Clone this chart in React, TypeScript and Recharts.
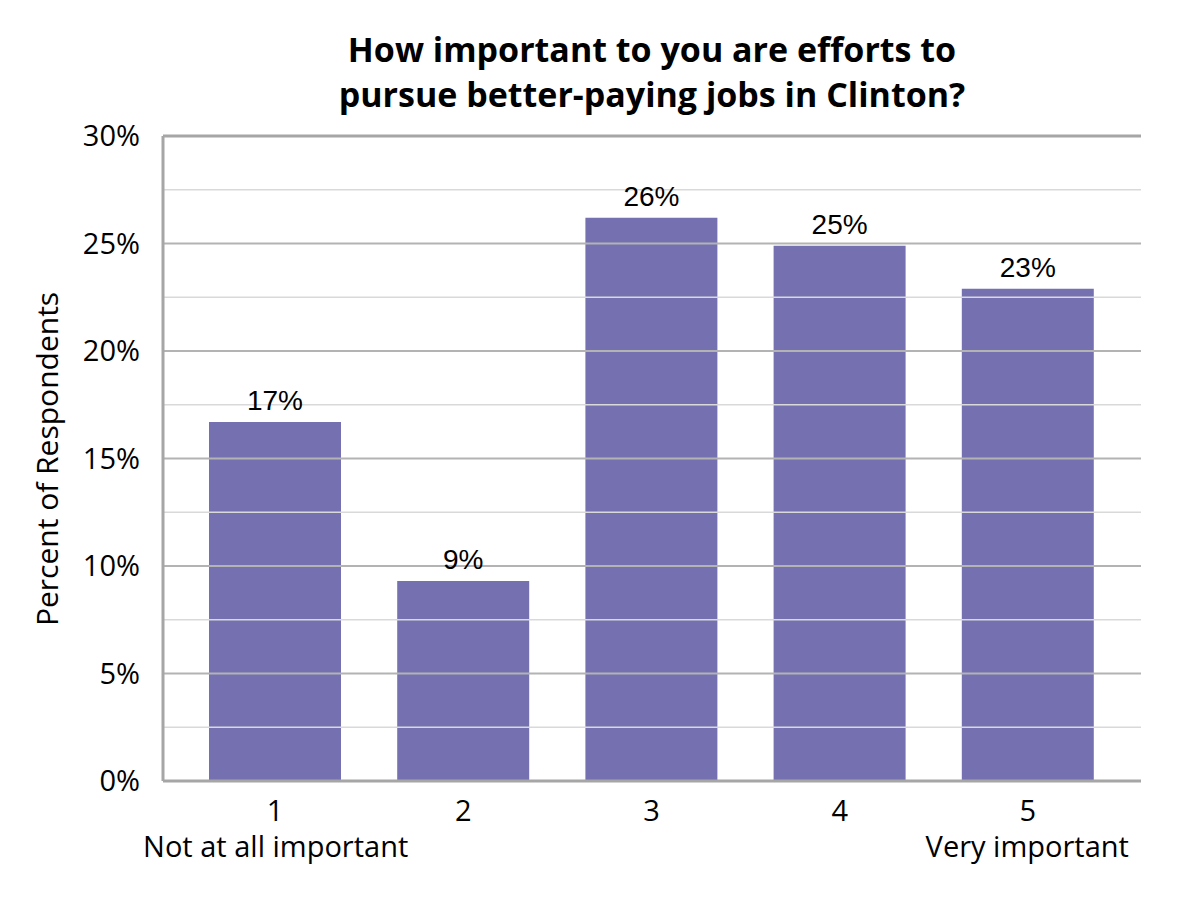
import { BarChart, Bar, XAxis, YAxis, ReferenceLine, LabelList } from "recharts";

const CATEGORIES = ["1", "2", "3", "4", "5"];
const PERCENTS = [16.7, 9.3, 26.2, 24.9, 22.9];
const Y_TICKS = [0, 5, 10, 15, 20, 25, 30];
const MINOR_LINES = [2.5, 7.5, 12.5, 17.5, 22.5, 27.5];
const END_LABELS: Record<string, string> = { "1": "Not at all important", "5": "Very important" };
const TITLE = ["How important to you are efforts to", "pursue better-paying jobs in Clinton?"];

const data = CATEGORIES.map((name, i) => ({ name, value: PERCENTS[i] }));

const FONT = "'Open Sans', Lato, sans-serif";
const BORDER = "#a6a6a6";

function CategoryTick({ x, y, payload }: any) {
  const extra = END_LABELS[payload.value];
  const first = payload.value === CATEGORIES[0];
  return (
    <g fontFamily={FONT} fontSize={29} fill="#000">
      <text x={x} y={y + 32} textAnchor="middle" fill="#000">
        {payload.value}
      </text>
      {extra && (
        <text
          x={first ? x - 132 : x + 101}
          y={y + 68}
          textAnchor={first ? "start" : "end"}
          fill="#000"
        >
          {extra}
        </text>
      )}
    </g>
  );
}

export default function App() {
  return (
    <div style={{ position: "relative", width: 1200, height: 900, background: "#fff" }}>
      <style>{`body{margin:0}`}</style>
      <div
        style={{
          position: "absolute",
          left: 163,
          width: 978,
          top: 27,
          textAlign: "center",
          fontFamily: FONT,
          fontWeight: 700,
          fontSize: 34,
          lineHeight: "45px",
        }}
      >
        {TITLE.map(t => (
          <div key={t}>{t}</div>
        ))}
      </div>
      <div
        style={{
          position: "absolute",
          left: 46,
          top: 459,
          transform: "translate(-50%, -50%) rotate(-90deg)",
          whiteSpace: "nowrap",
          fontFamily: FONT,
          fontSize: 30,
        }}
      >
        Percent of Respondents
      </div>
      <BarChart
        width={1200}
        height={900}
        data={data}
        margin={{ top: 136, right: 59, bottom: 0, left: 0 }}
        style={{ position: "absolute", left: 0, top: 0 }}
      >
        {MINOR_LINES.map(v => (
          <ReferenceLine key={`m${v}`} y={v} stroke="#d9d9d9" strokeWidth={1.5} />
        ))}
        {Y_TICKS.slice(1, -1).map(v => (
          <ReferenceLine key={`M${v}`} y={v} stroke="#b3b3b3" strokeWidth={2} />
        ))}
        <ReferenceLine y={30} stroke={BORDER} strokeWidth={3} />
        <XAxis
          dataKey="name"
          axisLine={{ stroke: BORDER, strokeWidth: 3 }}
          tickLine={false}
          tick={<CategoryTick />}
          interval={0}
          height={119}
          padding={{ left: 18, right: 19 }}
        />
        <YAxis
          domain={[0, 30]}
          ticks={Y_TICKS}
          tickFormatter={v => `${v}%`}
          width={163}
          axisLine={{ stroke: BORDER, strokeWidth: 3 }}
          tickLine={false}
          tickSize={0}
          tickMargin={23}
          tick={{ fontFamily: FONT, fontSize: 29, fill: "#000" }}
        />
        <YAxis
          yAxisId="right"
          orientation="right"
          domain={[0, 30]}
          width={0}
          tick={false}
          tickLine={false}
          axisLine={{ stroke: BORDER, strokeWidth: 3 }}
        />
        <Bar dataKey="value" fill="#7571b1" barSize={132} isAnimationActive={false}>
          <LabelList
            dataKey="value"
            position="top"
            offset={12}
            formatter={(v: any) => `${Math.round(Number(v))}%`}
            style={{ fontFamily: "'Liberation Sans', Arial, sans-serif", fontSize: 28, fill: "#000" }}
          />
        </Bar>
      </BarChart>
    </div>
  );
}
